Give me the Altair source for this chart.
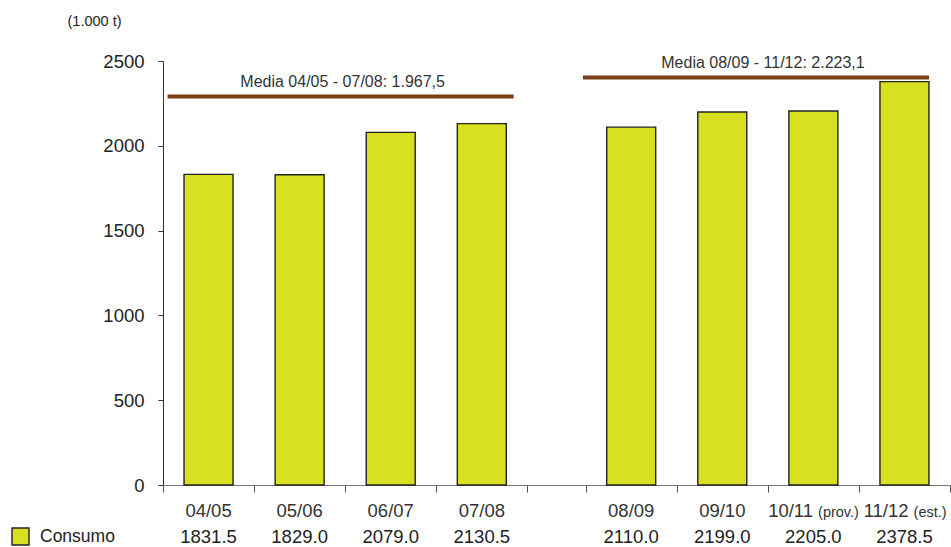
import altair as alt
import pandas as pd

# --- data -----------------------------------------------------------------
periodos = ["04/05", "05/06", "06/07", "07/08", "08/09", "09/10", "10/11", "11/12"]
notas = ["", "", "", "", "", "", "(prov.)", "(est.)"]
consumo = [1831.5, 1829.0, 2079.0, 2130.5, 2110.0, 2199.0, 2205.0, 2378.5]
grupo = [1, 1, 1, 1, 2, 2, 2, 2]
medias_texto = ["Media 04/05 - 07/08: 1.967,5", "Media 08/09 - 11/12: 2.223,1"]
y_ticks = [0, 500, 1000, 1500, 2000, 2500]

# --- layout ---------------------------------------------------------------
W, H = 787, 424
GAP = 0.64                     # extra space between the two periods (in bands)
BAR_PX = 49
FONT = "Liberation Sans"
BAR_COLOR = "#d7e021"
LINE_COLOR = "#7b3f17"
TEXT = "#222222"
LABEL_FS, NOTE_FS, NOTE_SP = 18.5, 14.5, 5

pos = [i + (GAP if g == 2 else 0) for i, g in enumerate(grupo)]
x_start, x_end = -0.5, pos[-1] + 0.5
px_per_unit = W / (x_end - x_start)
boundaries = [p - 0.5 for p in pos[:4]] + [pos[3] + 0.5] + [p - 0.5 for p in pos[4:]] + [x_end]

# approximate advance widths (em) used to centre "label + note" pairs
_em = {"(": .333, ")": .333, ".": .278, "/": .278, "p": .556, "r": .333, "o": .556,
       "v": .5, "e": .556, "s": .5, "t": .278}


def text_w(s, fs):
    return sum(_em.get(c, .556) for c in s) * fs


rows = []
for p, lab, nota, val in zip(pos, periodos, notas, consumo):
    if nota:
        wm, wn = text_w(lab, LABEL_FS), text_w(nota, NOTE_FS)
        right = (wm - NOTE_SP - wn) / 2
        rows.append(dict(pos=p, periodo=lab, nota=nota, consumo=val,
                         x_lab=p + right / px_per_unit,
                         x_nota=p + (right + NOTE_SP) / px_per_unit))
    else:
        rows.append(dict(pos=p, periodo=lab, nota=nota, consumo=val,
                         x_lab=p, x_nota=p))
df = pd.DataFrame(rows)
df["serie"] = "Consumo"

# mean brackets drawn above each period's bars
media_y = [2290, 2402]
spans = [(pos[0] - 0.45, pos[3] + 0.35), (pos[4] - 0.53, pos[7] + 0.27)]
text_shift_px = [2, 7]
df_media = pd.DataFrame({
    "texto": medias_texto,
    "x0": [s[0] for s in spans],
    "x1": [s[1] for s in spans],
    "xm": [(s[0] + s[1]) / 2 + d / px_per_unit for s, d in zip(spans, text_shift_px)],
    "y": media_y,
})

xscale = alt.Scale(domain=[x_start, x_end], nice=False, zero=False, padding=0)
yscale = alt.Scale(domain=[0, 2500], nice=False, padding=0)

# one axis definition per channel, shared by every layer
xaxis = alt.Axis(values=boundaries, labels=False, title=None, grid=False,
                 tickSize=7, tickColor="#555555", domainColor="#777777", domainWidth=1)
yaxis = alt.Axis(values=y_ticks, format="d", grid=False, labelFontSize=LABEL_FS,
                 labelColor=TEXT, labelPadding=14, tickSize=5, tickColor="#333333",
                 domainColor="#333333", labelFont=FONT,
                 title="(1.000 t)", titleAngle=0, titleAlign="center",
                 titleBaseline="alphabetic", titleX=-69, titleY=-36,
                 titleFontSize=14.5, titleFontWeight="normal",
                 titleColor=TEXT, titleFont=FONT)

bars = alt.Chart(df).mark_bar(size=BAR_PX, stroke="#222222", strokeWidth=1.4).encode(
    x=alt.X("pos:Q", scale=xscale, axis=xaxis),
    y=alt.Y("consumo:Q", scale=yscale, axis=yaxis),
    color=alt.Color("serie:N", scale=alt.Scale(range=[BAR_COLOR]),
                    legend=alt.Legend(title=None, orient="none", legendX=-152, legendY=466,
                                      symbolType="square", symbolSize=289,
                                      symbolStrokeColor="#222222", symbolStrokeWidth=1.4,
                                      labelFontSize=17.5, labelColor=TEXT, labelFont=FONT,
                                      labelOffset=10, padding=0)),
)

media_lines = alt.Chart(df_media).mark_rule(color=LINE_COLOR, strokeWidth=4).encode(
    x=alt.X("x0:Q", scale=xscale, axis=xaxis),
    x2="x1:Q",
    y=alt.Y("y:Q", scale=yscale, axis=yaxis),
)

media_text = alt.Chart(df_media).mark_text(
    fontSize=16, font=FONT, color="#333333", baseline="alphabetic", dy=-10
).encode(
    x=alt.X("xm:Q", scale=xscale, axis=xaxis),
    y=alt.Y("y:Q", scale=yscale, axis=yaxis),
    text="texto:N",
)

# category labels: plain ones centred, those followed by a note split in two
cat_plain = alt.Chart(df).mark_text(
    fontSize=LABEL_FS, font=FONT, color="#333333", baseline="alphabetic", align="center"
).encode(
    x=alt.X("x_lab:Q", scale=xscale, axis=xaxis),
    y=alt.value(456),
    text="periodo:N",
).transform_filter("datum.nota == ''")

cat_noted = alt.Chart(df).mark_text(
    fontSize=LABEL_FS, font=FONT, color="#333333", baseline="alphabetic", align="right"
).encode(
    x=alt.X("x_lab:Q", scale=xscale, axis=xaxis),
    y=alt.value(456),
    text="periodo:N",
).transform_filter("datum.nota != ''")

notes = alt.Chart(df).mark_text(
    fontSize=NOTE_FS, font=FONT, color="#333333", baseline="alphabetic", align="left"
).encode(
    x=alt.X("x_nota:Q", scale=xscale, axis=xaxis),
    y=alt.value(456),
    text="nota:N",
).transform_filter("datum.nota != ''")

values = alt.Chart(df).mark_text(
    fontSize=LABEL_FS, font=FONT, color=TEXT, baseline="alphabetic"
).encode(
    x=alt.X("pos:Q", scale=xscale, axis=xaxis),
    y=alt.value(482),
    text=alt.Text("consumo:Q", format=".1f"),
)

chart = alt.layer(
    bars, media_lines, media_text, cat_plain, cat_noted, notes, values
).properties(
    width=W, height=H,
    autosize=alt.AutoSizeParams(type="none"),
    padding={"left": 163, "top": 61, "right": 1, "bottom": 62},
    background="white",
).configure(font=FONT).configure_view(stroke=None)

chart.save("out.html", embed_options={"renderer": "svg", "actions": False})
